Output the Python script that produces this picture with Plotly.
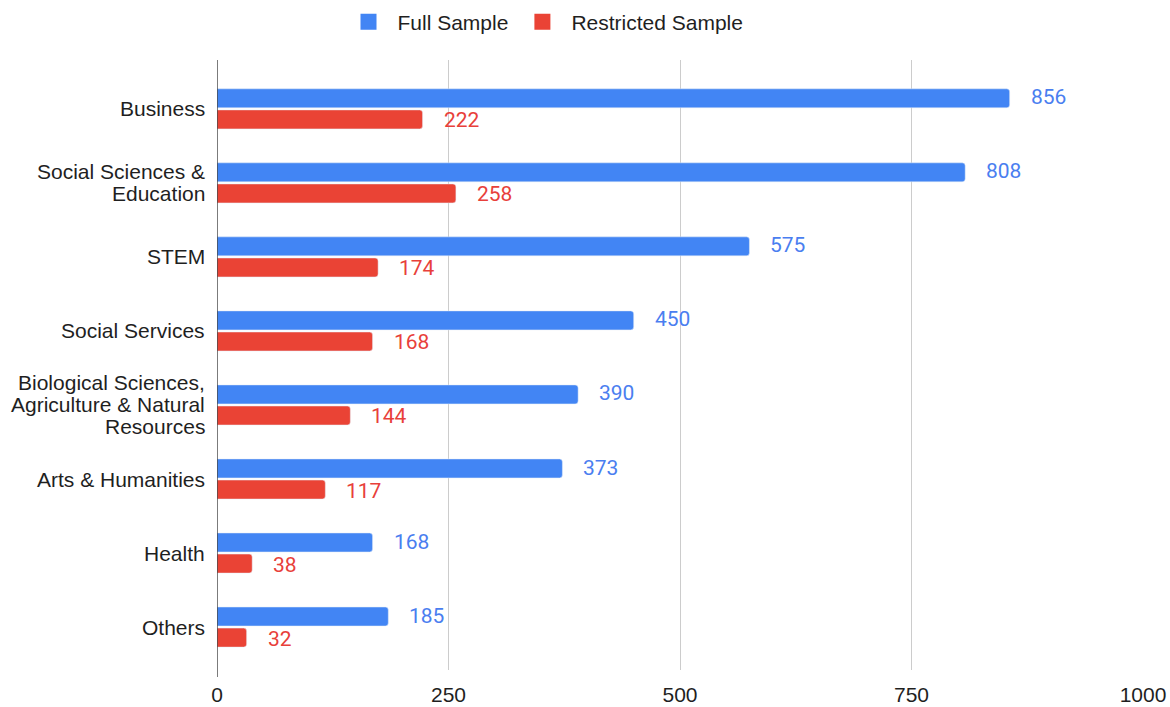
import plotly.graph_objects as go

# Fields of study and participant counts per sample
categories = [
    "Business",
    "Social Sciences &<br>Education",
    "STEM",
    "Social Services",
    "Biological Sciences,<br>Agriculture & Natural<br>Resources",
    "Arts & Humanities",
    "Health",
    "Others",
]
full_sample = [856, 808, 575, 450, 390, 373, 168, 185]
restricted_sample = [222, 258, 174, 168, 144, 117, 38, 32]
x_ticks = [0, 250, 500, 750, 1000]
series_names = ["Full Sample", "Restricted Sample"]

BLUE = "#4285F4"
RED = "#EA4335"
BLUE_TXT = "#4a7ef0"
RED_TXT = "#e8403a"
FONT = "Liberation Sans, Arial, sans-serif"
NUM_FONT = "Roboto, Liberation Sans, Arial, sans-serif"
TXT = "#1f1f1f"
FS = 21
LINE_H = 22

fig = go.Figure()
for name, vals, col in zip(series_names, [full_sample, restricted_sample], [BLUE, RED]):
    fig.add_trace(go.Bar(
        y=categories, x=vals, orientation="h", name=name,
        marker=dict(color=col, cornerradius=3), hoverinfo="x+y",
        showlegend=False,
    ))
# Legend entries with larger square swatches
for name, col in zip(series_names, [BLUE, RED]):
    fig.add_trace(go.Scatter(
        x=[None], y=[None], mode="markers", name=name,
        marker=dict(symbol="square", size=17, color=col),
        showlegend=True,
    ))

annotations = []
# Value labels placed just past the end of each bar
for vals, col, dy in [(full_sample, BLUE_TXT, 11.5), (restricted_sample, RED_TXT, -11.5)]:
    for cat, v in zip(categories, vals):
        annotations.append(dict(
            x=v, y=cat, xref="x", yref="y", text=str(v), showarrow=False,
            xanchor="left", yanchor="middle", xshift=19, yshift=dy,
            font=dict(family=NUM_FONT, size=FS, color=col),
        ))
# Category labels, right-aligned against the axis, tight line spacing
for cat in categories:
    lines = cat.split("<br>")
    n = len(lines)
    for i, line in enumerate(lines):
        annotations.append(dict(
            x=0, y=cat, xref="x", yref="y", text=line, showarrow=False,
            xanchor="right", yanchor="middle", xshift=-10,
            yshift=((n - 1) / 2 - i) * LINE_H,
            font=dict(family=FONT, size=FS, color=TXT),
        ))

fig.update_layout(
    width=1170, height=707,
    margin=dict(l=217, r=27, t=60, b=37, autoexpand=False),
    paper_bgcolor="white", plot_bgcolor="white",
    barmode="group", bargap=0.43, bargroupgap=0.1,
    font=dict(family=FONT, size=FS, color=TXT),
    legend=dict(
        orientation="h", x=0.1323, xanchor="left", y=1.0623, yanchor="middle",
        font=dict(family=FONT, size=FS, color=TXT),
        itemwidth=48, traceorder="normal",
    ),
    annotations=annotations,
    shapes=[dict(
        type="line", xref="x", yref="paper", x0=0, x1=0, y0=-0.0115, y1=1,
        line=dict(color="#333333", width=1.3),
    )],
)
fig.update_xaxes(
    range=[0, 1000], tickvals=x_ticks, ticktext=[str(t) for t in x_ticks],
    showgrid=True, gridcolor="#cccccc", gridwidth=1, zeroline=False,
    showline=False, ticks="", ticklabelstandoff=10,
    tickfont=dict(family=FONT, size=FS, color=TXT),
)
fig.update_yaxes(
    categoryorder="array", categoryarray=categories,
    range=[7.58, -0.66], showgrid=False, zeroline=False, showline=False,
    ticks="", showticklabels=False,
)

fig.write_html("out.html")
